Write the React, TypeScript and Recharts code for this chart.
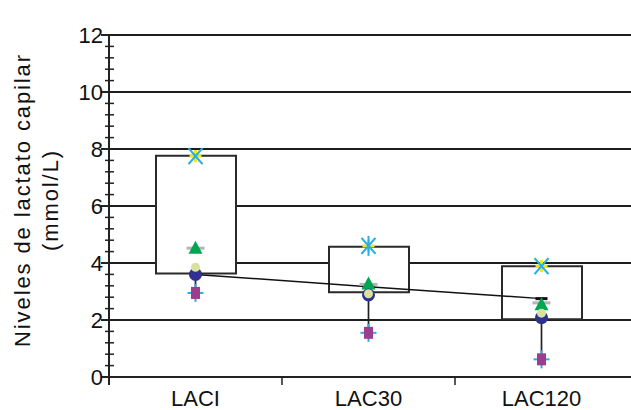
import React from 'react';
import { ComposedChart, Bar, Line, Scatter, XAxis, YAxis, CartesianGrid, ReferenceLine } from 'recharts';

// categories and values (mmol/L)
const categories = ['LACI', 'LAC30', 'LAC120'];
const boxLow = [3.63, 2.97, 2.03];
const boxHigh = [7.76, 4.57, 3.89];
const maxVals = [7.75, 4.6, 3.89];
const starVals = [null, 4.6, null];
const grayDashVals = [4.52, 3.25, 2.6];
const triangleVals = [4.5, 3.25, 2.52];
const navyVals = [3.6, 2.88, 2.08];
const lightVals = [3.85, 2.92, 2.24];
const minVals = [2.95, 1.55, 0.62];
const lineVals = [3.6, 3.17, 2.75];

const majorTicks = [0, 2, 4, 6, 8, 10, 12];
const minorTicks: number[] = [];
for (let v = 0.4; v < 12; v += 0.4) {
  const r = Math.round(v * 10) / 10;
  if (r % 2 !== 0) minorTicks.push(r);
}
const yTicks = [...majorTicks, ...minorTicks].sort((a, b) => a - b);

const data = categories.map((name, i) => ({
  name,
  box: [boxLow[i], boxHigh[i]],
  max: maxVals[i],
  star: starVals[i],
  grayDash: grayDashVals[i],
  triangle: triangleVals[i],
  navy: navyVals[i],
  light: lightVals[i],
  min: minVals[i],
  line: lineVals[i],
}));

const FONT = '"Liberation Sans", Arial, Helvetica, sans-serif';
const CYAN = '#27aee6';
const YELLOW = '#f3e61a';

const ok = (p: any) => p && Number.isFinite(p.cx) && Number.isFinite(p.cy) && p.payload;

const YTick = (props: any) => {
  const { x, y, payload } = props;
  const axisX = x + 12;
  const v = payload.value;
  const isMajor = majorTicks.includes(v);
  if (isMajor) {
    return (
      <g>
        <line x1={axisX - 8} y1={y} x2={axisX} y2={y} stroke="#222" strokeWidth={2} />
        {v === 0 && <line x1={axisX} y1={y} x2={axisX} y2={y + 8} stroke="#222" strokeWidth={2} />}
        <text x={axisX - 6} y={y} textAnchor="end" dominantBaseline="central" fontSize={22} fontFamily={FONT} fill="#111">
          {v}
        </text>
      </g>
    );
  }
  return <line x1={axisX - 4} y1={y} x2={axisX + 5} y2={y} stroke="#222" strokeWidth={1.5} />;
};

const XTick = (props: any) => {
  const { x, y, payload, index } = props;
  const off = payload.offset || 0;
  return (
    <g>
      {index > 0 && <line x1={x - off} y1={y} x2={x - off} y2={y + 8} stroke="#222" strokeWidth={1.5} />}
      <text x={x} y={y + 21} textAnchor="middle" dominantBaseline="central" fontSize={22} fontFamily={FONT} fill="#111">
        {payload.value}
      </text>
    </g>
  );
};

const GrayDash = (p: any) => {
  if (!ok(p) || p.payload.grayDash == null) return <g />;
  return <rect x={p.cx - 9} y={p.cy - 1.5} width={18} height={3} fill="#b5b5b5" />;
};

const Triangle = (p: any) => {
  if (!ok(p) || p.payload.triangle == null) return <g />;
  const { cx, cy } = p;
  return <polygon points={`${cx},${cy - 8} ${cx - 7},${cy + 5} ${cx + 7},${cy + 5}`} fill="#00a650" />;
};

const Navy = (p: any) => {
  if (!ok(p) || p.payload.navy == null) return <g />;
  return <circle cx={p.cx} cy={p.cy} r={6.5} fill="#2e3192" />;
};

const Light = (p: any) => {
  if (!ok(p) || p.payload.light == null) return <g />;
  return <circle cx={p.cx} cy={p.cy} r={4.5} fill="#d9e29c" />;
};

const MinMark = (p: any) => {
  if (!ok(p) || p.payload.min == null) return <g />;
  const { cx, cy } = p;
  return (
    <g>
      <line x1={cx - 8} y1={cy} x2={cx + 8} y2={cy} stroke={CYAN} strokeWidth={2} />
      <line x1={cx} y1={cy - 9} x2={cx} y2={cy + 9} stroke={CYAN} strokeWidth={2} />
      <rect x={cx - 4.5} y={cy - 6} width={9} height={12} fill="#9c3d8d" />
    </g>
  );
};

const MaxMark = (p: any) => {
  if (!ok(p) || p.payload.max == null) return <g />;
  const { cx, cy } = p;
  return (
    <g>
      <line x1={cx} y1={cy - 6} x2={cx} y2={cy + 6} stroke={YELLOW} strokeWidth={3} />
      <line x1={cx - 6} y1={cy} x2={cx + 6} y2={cy} stroke={YELLOW} strokeWidth={3} />
      <line x1={cx - 7} y1={cy - 8} x2={cx + 7} y2={cy + 8} stroke={CYAN} strokeWidth={2.2} />
      <line x1={cx - 7} y1={cy + 8} x2={cx + 7} y2={cy - 8} stroke={CYAN} strokeWidth={2.2} />
    </g>
  );
};

const StarMark = (p: any) => {
  if (!ok(p) || p.payload.star == null) return <g />;
  const { cx, cy } = p;
  return <line x1={cx} y1={cy - 10} x2={cx} y2={cy + 10} stroke={CYAN} strokeWidth={2} />;
};

const LineDot = (p: any) => {
  if (!p || !Number.isFinite(p.cx) || !Number.isFinite(p.cy)) return <g key={`d-${p?.index}`} />;
  return <rect key={`d-${p.index}`} x={p.cx - 6} y={p.cy - 1.5} width={12} height={3} fill="#111" />;
};

const YTitle = (props: any) => {
  const { viewBox } = props;
  const cy = viewBox.y + viewBox.height / 2 - 6;
  return (
    <g fontFamily={FONT} fontSize={22} fill="#111">
      <text x={22} y={cy} textAnchor="middle" dominantBaseline="central" letterSpacing={1.9} transform={`rotate(-90, 22, ${cy})`}>
        Niveles de lactato capilar
      </text>
      <text x={50} y={cy} textAnchor="middle" dominantBaseline="central" letterSpacing={1.9} transform={`rotate(-90, 50, ${cy})`}>
        (mmol/L)
      </text>
    </g>
  );
};

export default function App() {
  return (
    <div style={{ position: 'absolute', left: 0, top: 0, width: 631, height: 410, overflow: 'hidden', background: '#fff' }}>
      <ComposedChart width={640} height={410} data={data} margin={{ top: 35, right: 0, bottom: 0, left: 0 }}>
        <CartesianGrid horizontal vertical={false} stroke="#1e1e1e" strokeWidth={2} horizontalValues={majorTicks} />
        <XAxis
          dataKey="name"
          height={33}
          padding={{ left: 0, right: 12 }}
          axisLine={{ stroke: '#222', strokeWidth: 2 }}
          tickLine={false}
          tickSize={0}
          tickMargin={0}
          tick={<XTick />}
          interval={0}
        />
        <YAxis
          type="number"
          domain={[0, 12]}
          ticks={yTicks}
          interval={0}
          width={109}
          axisLine={{ stroke: '#222', strokeWidth: 2 }}
          tickLine={false}
          tickSize={8}
          tickMargin={4}
          tick={<YTick />}
          label={<YTitle />}
        />
        <Bar dataKey="box" barSize={80} fill="#fff" stroke="#2a2a2a" strokeWidth={2} isAnimationActive={false} />
        {categories.map((c, i) => (
          <ReferenceLine
            key={c}
            segment={[{ x: c, y: minVals[i] }, { x: c, y: navyVals[i] }]}
            stroke="#222"
            strokeWidth={1.7}
          />
        ))}
        <Line dataKey="line" type="linear" stroke="#111" strokeWidth={1.5} dot={LineDot} isAnimationActive={false} />
        <Scatter dataKey="grayDash" shape={GrayDash} isAnimationActive={false} />
        <Scatter dataKey="triangle" shape={Triangle} isAnimationActive={false} />
        <Scatter dataKey="navy" shape={Navy} isAnimationActive={false} />
        <Scatter dataKey="light" shape={Light} isAnimationActive={false} />
        <Scatter dataKey="min" shape={MinMark} isAnimationActive={false} />
        <Scatter dataKey="max" shape={MaxMark} isAnimationActive={false} />
        <Scatter dataKey="star" shape={StarMark} isAnimationActive={false} />
      </ComposedChart>
    </div>
  );
}
